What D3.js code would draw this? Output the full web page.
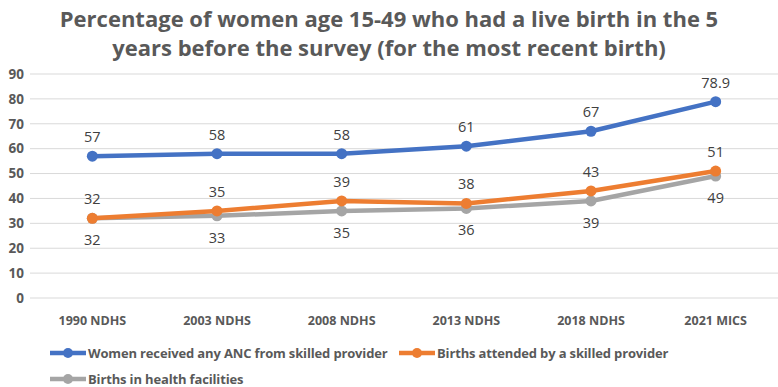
<!DOCTYPE html>
<meta charset="utf-8">
<script src="https://cdn.jsdelivr.net/npm/d3@7"></script>
<style>
  body { margin: 0; background: #fff; }
  text { font-family: "Open Sans", sans-serif; }
</style>
<body>
<script>

var width = 778
var height = 387

var categories = ["1990 NDHS", "2003 NDHS", "2008 NDHS", "2013 NDHS", "2018 NDHS", "2021 MICS"]
var anc = [57, 58, 58, 61, 67, 78.9]
var attended = [32, 35, 39, 38, 43, 51]
var facility = [32, 33, 35, 36, 39, 49]
var yTicks = [0, 10, 20, 30, 40, 50, 60, 70, 80, 90]

var series = [
  {name: "Women received any ANC from skilled provider", values: anc, color: "#4472C4", labelPos: "above"},
  {name: "Births attended by a skilled provider", values: attended, color: "#ED7D31", labelPos: "above"},
  {name: "Births in health facilities", values: facility, color: "#A5A5A5", labelPos: "below"}
]

var x = d3.scaleBand().domain(categories).range([30, 778])
var y = d3.scaleLinear().domain([0, 90]).range([298, 74])

var svg = d3.select("body").append("svg")
            .attr("width", width)
            .attr("height", height)

// title
var title = svg.append("text")
   .attr("text-anchor", "middle")
   .style("font-size", "22px")
   .style("font-weight", "bold")
   .style("fill", "#595959")
title.append("tspan").attr("x", 389).attr("y", 27).text("Percentage of women age 15-49 who had a live birth in the 5")
title.append("tspan").attr("x", 389).attr("y", 56).text("years before the survey (for the most recent birth)")

// gridlines
svg.append("g")
   .selectAll("line")
   .data(yTicks)
   .join("line")
   .attr("x1", 30).attr("x2", 778)
   .attr("y1", d => y(d)).attr("y2", d => y(d))
   .attr("stroke", "#d9d9d9")
   .attr("stroke-width", 1)

// y axis labels
var yAxis = svg.append("g")
   .attr("transform", "translate(24,0)")
   .call(d3.axisLeft(y).tickValues(yTicks).tickSize(0).tickPadding(0))
yAxis.select(".domain").remove()
yAxis.selectAll("text")
   .style("font-size", "13.5px")
   .style("font-weight", "bold")
   .style("fill", "#595959")

// x axis labels
var xAxis = svg.append("g")
   .attr("transform", "translate(0,309)")
   .call(d3.axisBottom(x).tickSize(0).tickPadding(7))
xAxis.select(".domain").remove()
xAxis.selectAll("text")
   .style("font-size", "12.5px")
   .style("font-weight", "bold")
   .style("fill", "#595959")

var line = d3.line()
   .x((d, i) => x(categories[i]) + x.bandwidth() / 2)
   .y(d => y(d))

// draw in reverse so blue is on top and gray under orange
var lines = svg.append("g")
series.slice().reverse().forEach(function(s) {
  var g = lines.append("g")
  g.append("path")
   .attr("d", line(s.values))
   .attr("fill", "none")
   .attr("stroke", s.color)
   .attr("stroke-width", 4.5)
   .attr("stroke-linejoin", "round")
  g.selectAll("circle")
   .data(s.values)
   .join("circle")
   .attr("cx", (d, i) => x(categories[i]) + x.bandwidth() / 2)
   .attr("cy", d => y(d))
   .attr("r", 5.5)
   .attr("fill", s.color)
})

// data labels
series.forEach(function(s) {
  svg.append("g")
     .selectAll("text")
     .data(s.values)
     .join("text")
     .attr("x", (d, i) => x(categories[i]) + x.bandwidth() / 2)
     .attr("y", d => s.labelPos == "above" ? y(d) - 14 : y(d) + 27)
     .attr("text-anchor", "middle")
     .style("font-size", "14.5px")
     .style("fill", "#404040")
     .text(d => d)
})

// legend
var legendItems = [
  {s: series[0], x: 50, y: 353},
  {s: series[1], x: 399, y: 353},
  {s: series[2], x: 50, y: 379}
]
var legend = svg.append("g")
legendItems.forEach(function(it) {
  var g = legend.append("g").attr("transform", "translate(" + it.x + "," + it.y + ")")
  g.append("line").attr("x1", 0).attr("x2", 36).attr("stroke", it.s.color).attr("stroke-width", 4.5)
  g.append("circle").attr("cx", 18).attr("r", 5).attr("fill", it.s.color)
  g.append("text")
   .attr("x", 38).attr("dy", "0.35em")
   .style("font-size", "13px")
   .style("font-weight", "bold")
   .style("fill", "#595959")
   .style("letter-spacing", "-0.15px")
   .text(it.s.name)
})

</script>
</body>
